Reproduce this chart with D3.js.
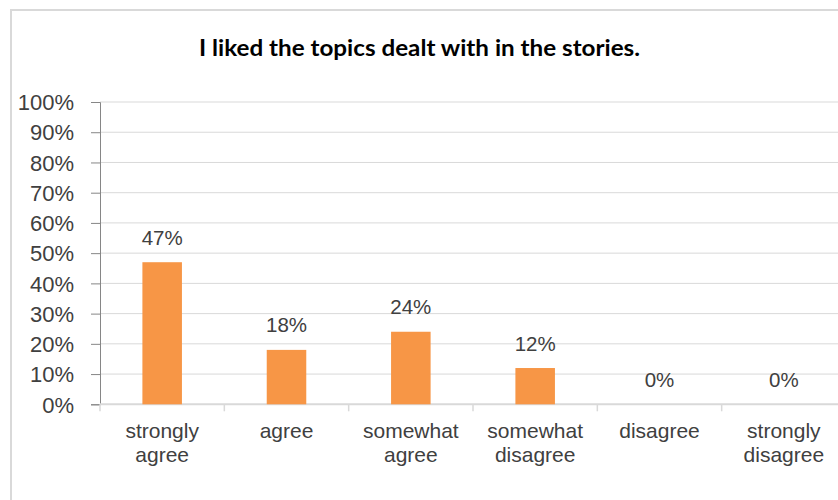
<!DOCTYPE html>
<html>
<head>
<meta charset="utf-8">
<script src="https://cdn.jsdelivr.net/npm/d3@7"></script>
<style>
  html, body { margin: 0; padding: 0; background: #fff; }
  svg { display: block; }
</style>
</head>
<body>
<svg id="chart" width="838" height="500"></svg>
<script>
// Survey responses
const title = "I liked the topics dealt with in the stories.";
const categories = ["strongly agree", "agree", "somewhat agree", "somewhat disagree", "disagree", "strongly disagree"];
const categoryLines = [["strongly", "agree"], ["agree"], ["somewhat", "agree"], ["somewhat", "disagree"], ["disagree"], ["strongly", "disagree"]];
const values = [0.47, 0.18, 0.24, 0.12, 0, 0];
const yTicks = [0, 0.1, 0.2, 0.3, 0.4, 0.5, 0.6, 0.7, 0.8, 0.9, 1.0];

const svg = d3.select("#chart");
const W = 838;
const plotLeft = 100, plotRight = 846, plotTop = 102, plotBottom = 404.3;

// outer chart frame (runs past the right and bottom edges)
svg.append("rect")
  .attr("x", 11).attr("y", 10)
  .attr("width", 900).attr("height", 600)
  .attr("fill", "#fff")
  .attr("stroke", "#d9d9d9").attr("stroke-width", 2);

svg.append("text")
  .attr("x", 419.5).attr("y", 56)
  .attr("text-anchor", "middle")
  .attr("font-family", "Lato, 'Open Sans', sans-serif")
  .attr("font-weight", "bold")
  .attr("font-size", 23.5)
  .attr("textLength", 441).attr("lengthAdjust", "spacingAndGlyphs")
  .attr("fill", "#000")
  .text(title);

const x = d3.scaleBand().domain(categories).range([plotLeft, plotRight]).padding(0);
const y = d3.scaleLinear().domain([0, 1]).range([plotBottom, plotTop]);

// gridlines
svg.append("g").selectAll("line")
  .data(yTicks.filter(d => d > 0))
  .join("line")
  .attr("x1", plotLeft).attr("x2", W)
  .attr("y1", d => y(d)).attr("y2", d => y(d))
  .attr("stroke", "#d9d9d9").attr("stroke-width", 1);

// y axis
const yAxis = svg.append("g")
  .attr("transform", `translate(${plotLeft},0)`)
  .call(d3.axisLeft(y).tickValues(yTicks).tickFormat(d3.format(".0%")).tickSize(9).tickPadding(17));
yAxis.select(".domain").attr("stroke", "#868686");
yAxis.selectAll(".tick line").attr("stroke", "#868686");
yAxis.selectAll(".tick text")
  .attr("font-family", "'Liberation Sans', Arial, sans-serif")
  .attr("font-size", 22)
  .attr("fill", "#404040")
  .attr("dy", "0.35em");

// x axis baseline and category boundary ticks
svg.append("line")
  .attr("x1", plotLeft).attr("x2", W)
  .attr("y1", y(0)).attr("y2", y(0))
  .attr("stroke", "#d9d9d9").attr("stroke-width", 2);
svg.append("g").selectAll("line")
  .data(categories)
  .join("line")
  .attr("x1", d => x(d)).attr("x2", d => x(d))
  .attr("y1", y(0)).attr("y2", y(0) + 7)
  .attr("stroke", "#d9d9d9").attr("stroke-width", 1.5);

// bars
const barW = x.bandwidth() * 0.318;
svg.append("g").selectAll("rect")
  .data(values)
  .join("rect")
  .attr("x", (d, i) => x(categories[i]) + (x.bandwidth() - barW) / 2)
  .attr("y", d => y(d))
  .attr("width", barW)
  .attr("height", d => y(0) - y(d))
  .attr("fill", "#f79646");

// value labels
svg.append("g").selectAll("text")
  .data(values)
  .join("text")
  .attr("x", (d, i) => x(categories[i]) + x.bandwidth() / 2)
  .attr("y", d => y(d) - 17.5)
  .attr("text-anchor", "middle")
  .attr("font-family", "'Liberation Sans', Arial, sans-serif")
  .attr("font-size", 20.5)
  .attr("fill", "#404040")
  .text(d => d3.format(".0%")(d));

// category labels
const cat = svg.append("g").selectAll("text")
  .data(categoryLines)
  .join("text")
  .attr("x", (d, i) => x(categories[i]) + x.bandwidth() / 2)
  .attr("y", 438)
  .attr("text-anchor", "middle")
  .attr("font-family", "'Liberation Sans', Arial, sans-serif")
  .attr("font-size", 21)
  .attr("fill", "#404040");
cat.selectAll("tspan")
  .data(d => d)
  .join("tspan")
  .attr("x", function () { return d3.select(this.parentNode).attr("x"); })
  .attr("dy", (d, i) => i === 0 ? 0 : 23.5)
  .text(d => d);
</script>
</body>
</html>
